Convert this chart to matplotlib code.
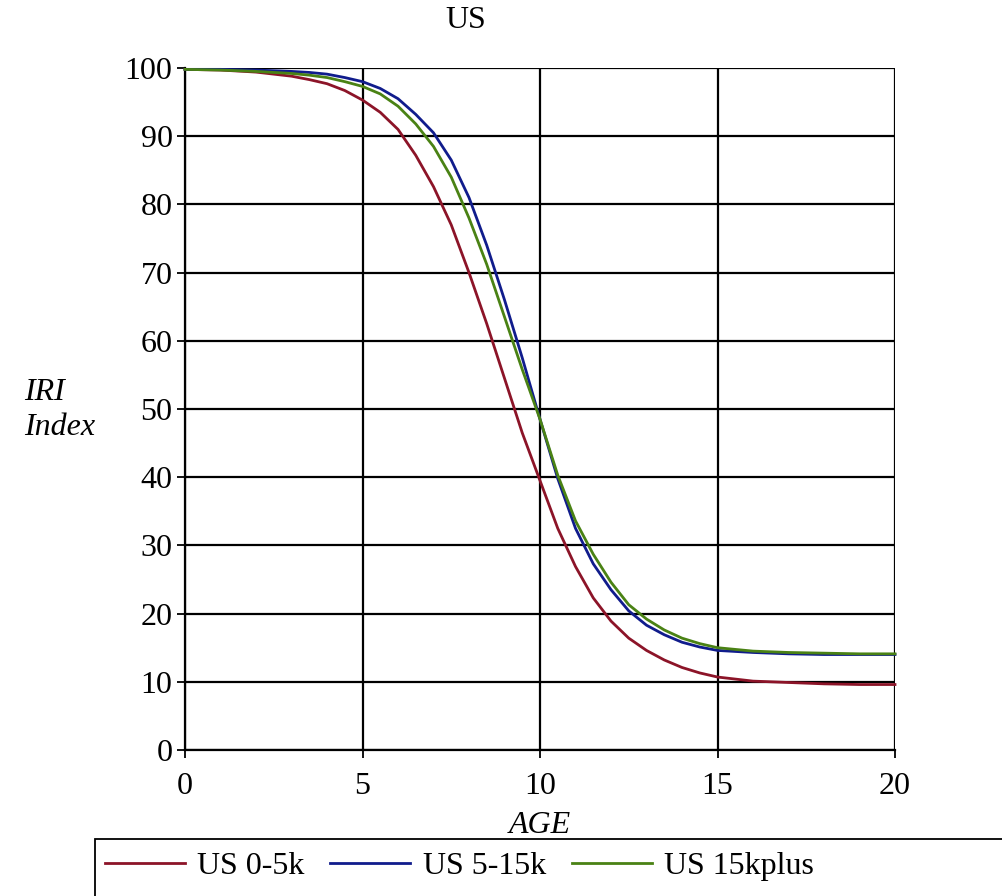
import matplotlib
matplotlib.use("Agg")
import matplotlib.pyplot as plt
from matplotlib.patches import Rectangle

plt.rcParams['font.family'] = ['Liberation Serif', 'DejaVu Serif']

# ---- data ----
age = [0, 1, 2, 3, 3.5, 4, 4.5, 5, 5.5, 6, 6.5, 7, 7.5, 8, 8.5, 9, 9.5, 10,
       10.5, 11, 11.5, 12, 12.5, 13, 13.5, 14, 14.5, 15, 16, 17, 18, 19, 20]
us_0_5k = [99.8, 99.7, 99.4, 98.8, 98.3, 97.7, 96.7, 95.3, 93.5, 91.0, 87.2,
           82.6, 77.0, 70.0, 62.5, 54.5, 46.5, 39.5, 32.5, 26.9, 22.3, 18.9,
           16.4, 14.6, 13.2, 12.1, 11.3, 10.7, 10.1, 9.9, 9.7, 9.6, 9.6]
us_5_15k = [99.8, 99.8, 99.7, 99.5, 99.35, 99.1, 98.6, 98.0, 97.0, 95.5, 93.2,
            90.5, 86.5, 81.0, 74.0, 66.0, 57.5, 48.5, 39.8, 32.5, 27.3, 23.5,
            20.4, 18.3, 16.9, 15.8, 15.1, 14.6, 14.3, 14.1, 14.0, 14.0, 14.0]
us_15kplus = [99.8, 99.7, 99.5, 99.2, 98.95, 98.6, 98.0, 97.3, 96.2, 94.4, 91.8,
              88.5, 84.0, 78.0, 71.2, 63.5, 55.8, 48.5, 40.3, 33.6, 28.7, 24.6,
              21.3, 19.2, 17.6, 16.4, 15.6, 15.0, 14.5, 14.3, 14.2, 14.1, 14.1]
series_labels = ["US 0-5k", "US 5-15k", "US 15kplus"]
series_colors = ["#8c1428", "#101c8c", "#4a8214"]
x_ticks = [0, 5, 10, 15, 20]
y_ticks = [0, 10, 20, 30, 40, 50, 60, 70, 80, 90, 100]

W, H = 1002, 896
fig = plt.figure(figsize=(W / 100, H / 100), dpi=100)
ax = fig.add_axes([185 / W, 1 - 750 / H, (895 - 185) / W, (750 - 68) / H])

lines = []
for ys, lab, col in zip([us_0_5k, us_5_15k, us_15kplus], series_labels, series_colors):
    ln, = ax.plot(age, ys, color=col, lw=2.0, label=lab, zorder=3, clip_on=False,
                  solid_joinstyle='round')
    lines.append(ln)

ax.set_xlim(0, 20)
ax.set_ylim(0, 100)
ax.set_xticks(x_ticks)
ax.set_yticks(y_ticks)
ax.grid(True, color='black', lw=1.6)
for s in ['top', 'right']:
    ax.spines[s].set_visible(False)
for s in ['left', 'bottom']:
    ax.spines[s].set_linewidth(1.6)
ax.tick_params(axis='both', length=6, width=1.3, labelsize=23, direction='out')
ax.tick_params(axis='x', pad=10)
ax.tick_params(axis='y', pad=3)

fig.text(466 / W, 1 - 20 / H, "US", ha='center', va='center', fontsize=23)
fig.text(540 / W, 1 - 825 / H, "AGE", ha='center', va='center', fontsize=23, style='italic')
fig.text(24 / W, 1 - 410 / H, "IRI\nIndex", ha='left', va='center', fontsize=23,
         style='italic', linespacing=1.25)

# legend frame
fig.patches.append(Rectangle((95 / W, -0.05), 1.0, (1 - 839 / H) + 0.05,
                             transform=fig.transFigure, fill=False,
                             edgecolor='black', lw=1.3))
fig.legend(handles=lines, labels=series_labels, loc='center left',
           bbox_to_anchor=(92 / W, 1 - 866 / H), ncol=3, frameon=False,
           fontsize=23, handlelength=2.5, handletextpad=0.4, columnspacing=0.8,
           borderaxespad=0)

fig.savefig("out.png", dpi=100)
